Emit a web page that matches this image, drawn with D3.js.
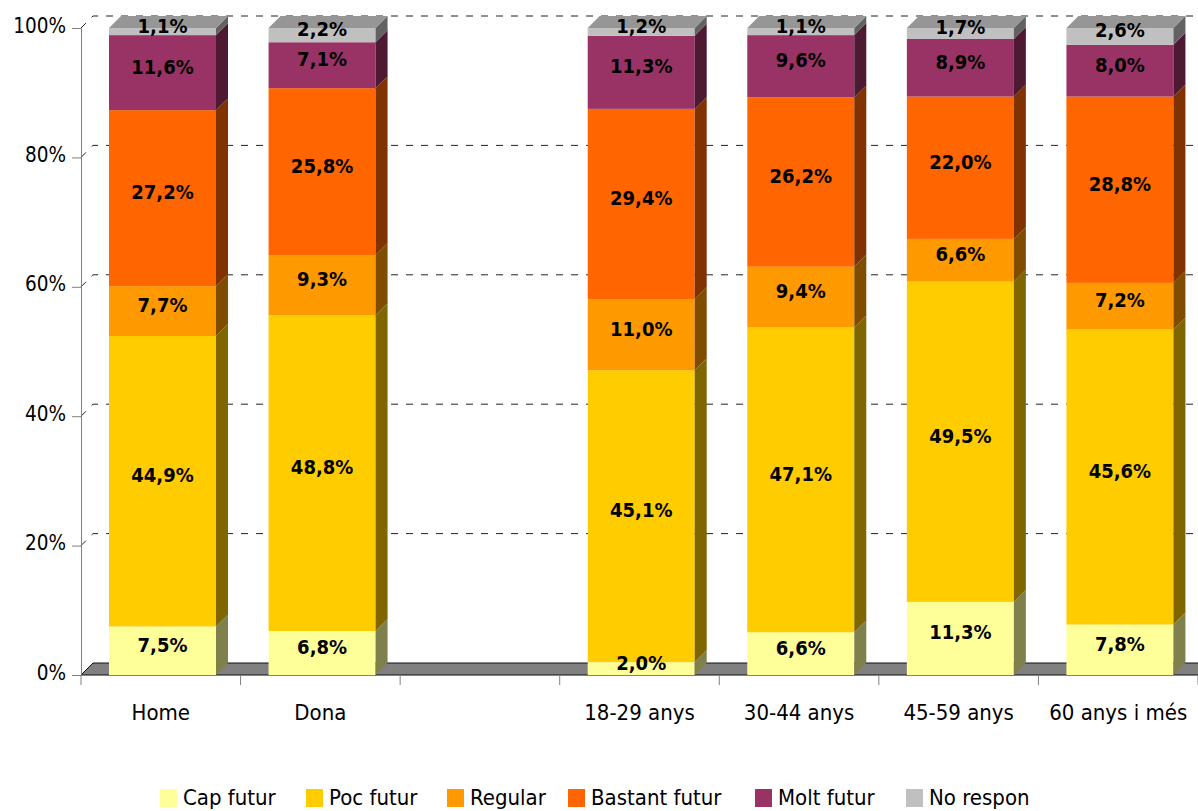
<!DOCTYPE html>
<html>
<head>
<meta charset="utf-8">
<script src="https://cdn.jsdelivr.net/npm/d3@7"></script>
<style>
  body { margin: 0; background: #fff; }
  text { font-family: "DejaVu Sans Condensed", "DejaVu Sans", sans-serif; }
</style>
</head>
<body>
<script>
'use strict';

// categories (the blank one is the gap between sex and age groups)
const categories = ["Home", "Dona", "", "18-29 anys", "30-44 anys", "45-59 anys", "60 anys i més"]
const series = ["Cap futur", "Poc futur", "Regular", "Bastant futur", "Molt futur", "No respon"]

const capFutur     = [7.5, 6.8, null, 2.0, 6.6, 11.3, 7.8]
const pocFutur     = [44.9, 48.8, null, 45.1, 47.1, 49.5, 45.6]
const regular      = [7.7, 9.3, null, 11.0, 9.4, 6.6, 7.2]
const bastantFutur = [27.2, 25.8, null, 29.4, 26.2, 22.0, 28.8]
const moltFutur    = [11.6, 7.1, null, 11.3, 9.6, 8.9, 8.0]
const noRespon     = [1.1, 2.2, null, 1.2, 1.1, 1.7, 2.6]

const yTicks = [0, 20, 40, 60, 80, 100]

const frontColor = ["#FFFF99", "#FFCC00", "#FF9900", "#FF6600", "#993366", "#C0C0C0"]
const sideColor  = ["#80804C", "#806600", "#804C00", "#803300", "#4D1933", "#626262"]
const topColor   = ["#CCCC7A", "#CCA300", "#CC7A00", "#CC5200", "#7A2952", "#969696"]

const m = { width: 1198, height: 811, left: 81, right: 1198, bottom: 675, top: 28, depth: 12 }

const svg = d3.select('body')
  .append('svg')
  .attr('width', m.width)
  .attr('height', m.height)

const x = d3.scaleBand()
  .domain(d3.range(categories.length))
  .range([m.left, m.right])

const y = d3.scaleLinear()
  .domain([0, 100])
  .range([m.bottom, m.top])

const D = m.depth
const barOffset = 28
const barWidth = 107

// dashed gridlines on the back wall
yTicks.filter((t) => t > 0).forEach((t) => {
  svg.append('path')
    .attr('d', `M${m.left},${y(t)} L${m.left + D},${y(t) - D} L${m.right},${y(t) - D}`)
    .style('fill', 'none')
    .style('stroke', '#222')
    .style('stroke-width', 1)
    .style('stroke-dasharray', '7,8')
})

// floor
svg.append('path')
  .attr('d', `M${m.left},${y(0)} L${m.left + D},${y(0) - D} L${m.right + D},${y(0) - D} L${m.right},${y(0)} Z`)
  .style('fill', '#808080')
  .style('stroke', '#111')
  .style('stroke-width', 1)

// y axis
const yAxis = d3.axisLeft(y)
  .tickValues(yTicks)
  .tickSize(9)
  .tickPadding(6)
  .tickFormat((d) => d + '%')

const gy = svg.append('g')
  .attr('transform', 'translate(' + m.left + ',0)')
  .call(yAxis)
gy.select('.domain').style('stroke', '#808080')
gy.selectAll('.tick line').style('stroke', '#808080')
gy.selectAll('.tick text')
  .attr('dy', '0.2em')
  .style('font-size', '20.5px')
  .style('fill', '#000')

// x axis
const xAxis = d3.axisBottom(x)
  .tickSize(0)
  .tickPadding(29)
  .tickFormat((i) => categories[i])

const gx = svg.append('g')
  .attr('transform', 'translate(0,' + m.bottom + ')')
  .call(xAxis)
gx.select('.domain').style('stroke', '#808080')
gx.selectAll('.tick text')
  .style('font-size', '22px')
  .style('fill', '#000')

// category separator ticks
gx.selectAll('.sep')
  .data(d3.range(categories.length + 1))
  .enter().append('line')
    .attr('x1', (i) => m.left + i * x.step())
    .attr('x2', (i) => m.left + i * x.step())
    .attr('y1', 0)
    .attr('y2', 10)
    .style('stroke', '#808080')

// stacked 3d bars
const allSeries = [capFutur, pocFutur, regular, bastantFutur, moltFutur, noRespon]
const bars = svg.append('g')
const labels = svg.append('g')

categories.forEach((cat, i) => {
  if (capFutur[i] === null) return
  const x0 = x(i) + barOffset
  const x1 = x0 + barWidth
  let cum = 0
  allSeries.forEach((vals, s) => {
    const v = vals[i]
    const yb = y(cum)
    const yt = y(cum + v)
    cum += v

    bars.append('rect')
      .attr('x', x0)
      .attr('y', yt)
      .attr('width', barWidth)
      .attr('height', yb - yt)
      .style('fill', frontColor[s])

    bars.append('path')
      .attr('d', `M${x1},${yb} L${x1 + D},${yb - D} L${x1 + D},${yt - D} L${x1},${yt} Z`)
      .style('fill', sideColor[s])

    if (s === allSeries.length - 1) {
      bars.append('path')
        .attr('d', `M${x0},${yt} L${x0 + D},${yt - D} L${x1 + D},${yt - D} L${x1},${yt} Z`)
        .style('fill', topColor[s])
    }

    // labels sit at the mid-depth of the bar
    labels.append('text')
      .attr('x', x0 + barWidth / 2)
      .attr('y', (yb + yt) / 2 - D / 2)
      .attr('text-anchor', 'middle')
      .attr('dominant-baseline', 'central')
      .style('font-size', '20px')
      .style('font-weight', 'bold')
      .text(v.toFixed(1).replace('.', ',') + '%')
  })
})

// legend
const legendX = [160, 306, 447, 568, 755, 906]
const legend = svg.append('g')
series.forEach((name, s) => {
  legend.append('rect')
    .attr('x', legendX[s])
    .attr('y', 789)
    .attr('width', 17)
    .attr('height', 18)
    .style('fill', frontColor[s])
  legend.append('text')
    .attr('x', legendX[s] + 23)
    .attr('y', 805)
    .style('font-size', '22px')
    .text(name)
})
</script>
</body>
</html>
